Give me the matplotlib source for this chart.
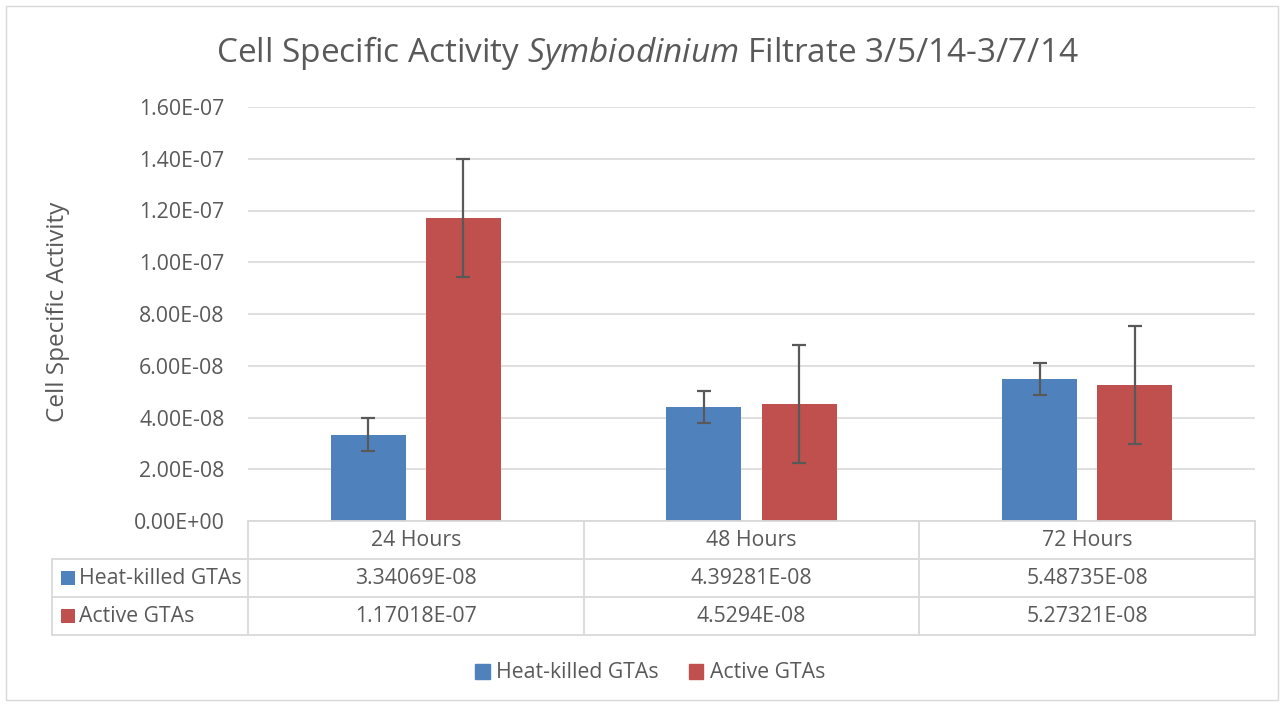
import matplotlib
matplotlib.use("Agg")
import matplotlib.pyplot as plt
from matplotlib.patches import Rectangle
from matplotlib.lines import Line2D
import numpy as np

categories = ["24 Hours", "48 Hours", "72 Hours"]
series_names = ["Heat-killed GTAs", "Active GTAs"]
heat_killed = [3.34069e-08, 4.39281e-08, 5.48735e-08]
active = [1.17018e-07, 4.5294e-08, 5.27321e-08]
heat_err = [0.63e-08, 0.62e-08, 0.61e-08]
active_err = [2.29e-08, 2.29e-08, 2.28e-08]
table_heat = ["3.34069E-08", "4.39281E-08", "5.48735E-08"]
table_active = ["1.17018E-07", "4.5294E-08", "5.27321E-08"]
yticks = [0, 2e-8, 4e-8, 6e-8, 8e-8, 1e-7, 1.2e-7, 1.4e-7, 1.6e-7]
ytick_labels = ["0.00E+00", "2.00E-08", "4.00E-08", "6.00E-08", "8.00E-08",
                "1.00E-07", "1.20E-07", "1.40E-07", "1.60E-07"]

BLUE = "#4f81bd"
RED = "#c0504d"
TXT = "#595959"
GRID = "#d9d9d9"
FONT = "Open Sans"
FS = 15.3

plt.rcParams["font.family"] = FONT
plt.rcParams["mathtext.fontset"] = "custom"
plt.rcParams["mathtext.it"] = FONT + ":italic"
plt.rcParams["mathtext.rm"] = FONT

W, H = 1284, 704
fig = plt.figure(figsize=(W / 100, H / 100), dpi=100)

def fx(px):
    return px / W

def fy(py):
    return 1 - py / H

# outer border
fig.add_artist(Rectangle((fx(6), fy(700)), fx(1278) - fx(6), fy(6) - fy(700),
                         transform=fig.transFigure, fill=False, edgecolor=GRID, lw=1))

left, right, top, bottom = 248, 1255, 107, 521
ax = fig.add_axes([fx(left), fy(bottom), fx(right) - fx(left), fy(top) - fy(bottom)])
x = np.arange(len(categories))
bw = 0.223
off = 0.142
ek = dict(ecolor=TXT, elinewidth=1.6, capsize=5, capthick=1.6)
ax.bar(x - off, heat_killed, bw, color=BLUE, yerr=heat_err, error_kw=ek, zorder=2)
ax.bar(x + off, active, bw, color=RED, yerr=active_err, error_kw=ek, zorder=2)
ax.set_xlim(-0.5, len(categories) - 0.5)
ax.set_ylim(0, 1.6e-7)
ax.set_yticks(yticks)
ax.set_yticklabels(ytick_labels, fontsize=FS, color=TXT)
ax.set_xticks([])
ax.tick_params(axis="y", length=0, pad=17)
ax.grid(axis="y", color=GRID, lw=1.2, zorder=0)
for s in ax.spines.values():
    s.set_visible(False)

fig.text(fx(58), fy(312), "Cell Specific Activity", rotation=90, ha="center", va="center",
         fontsize=17.5, color=TXT)

# Title
fig.text(fx(647), fy(53), r"Cell Specific Activity $\mathit{Symbiodinium}$ Filtrate 3/5/14-3/7/14",
         ha="center", va="center", fontsize=24, color=TXT)

# Data table
rows_y = [521, 559, 597, 635]
col_x = [left + (right - left) * i / 3 for i in range(4)]
tl = 52
def hline(x0, x1, y):
    fig.add_artist(Line2D([fx(x0), fx(x1)], [fy(y), fy(y)], transform=fig.transFigure, color=GRID, lw=1.3))
def vline(xp, y0, y1):
    fig.add_artist(Line2D([fx(xp), fx(xp)], [fy(y0), fy(y1)], transform=fig.transFigure, color=GRID, lw=1.3))

hline(left, right, rows_y[0])
for yy in rows_y[1:]:
    hline(tl, right, yy)
vline(tl, rows_y[1], rows_y[3])
for cx in col_x:
    vline(cx, rows_y[0], rows_y[3])

for i, c in enumerate(categories):
    xc = (col_x[i] + col_x[i + 1]) / 2
    fig.text(fx(xc), fy((rows_y[0] + rows_y[1]) / 2), c, ha="center", va="center", fontsize=FS, color=TXT)
    fig.text(fx(xc), fy((rows_y[1] + rows_y[2]) / 2), table_heat[i], ha="center", va="center", fontsize=FS, color=TXT)
    fig.text(fx(xc), fy((rows_y[2] + rows_y[3]) / 2), table_active[i], ha="center", va="center", fontsize=FS, color=TXT)

for r, (name, col) in enumerate(zip(series_names, [BLUE, RED])):
    yc = (rows_y[r + 1] + rows_y[r + 2]) / 2
    fig.add_artist(Rectangle((fx(61), fy(yc + 7)), 14 / W, 14 / H,
                             transform=fig.transFigure, facecolor=col, edgecolor="none"))
    fig.text(fx(79), fy(yc), name, ha="left", va="center", fontsize=FS, color=TXT)

# Legend
handles = [Rectangle((0, 0), 1, 1, color=BLUE), Rectangle((0, 0), 1, 1, color=RED)]
fig.legend(handles, series_names, loc="center", bbox_to_anchor=(fx(650), fy(673)), ncol=2,
           frameon=False, fontsize=FS, labelcolor=TXT, handlelength=0.7, handleheight=0.7,
           handletextpad=0.3, columnspacing=1.4)

fig.savefig("out.png", dpi=100)
